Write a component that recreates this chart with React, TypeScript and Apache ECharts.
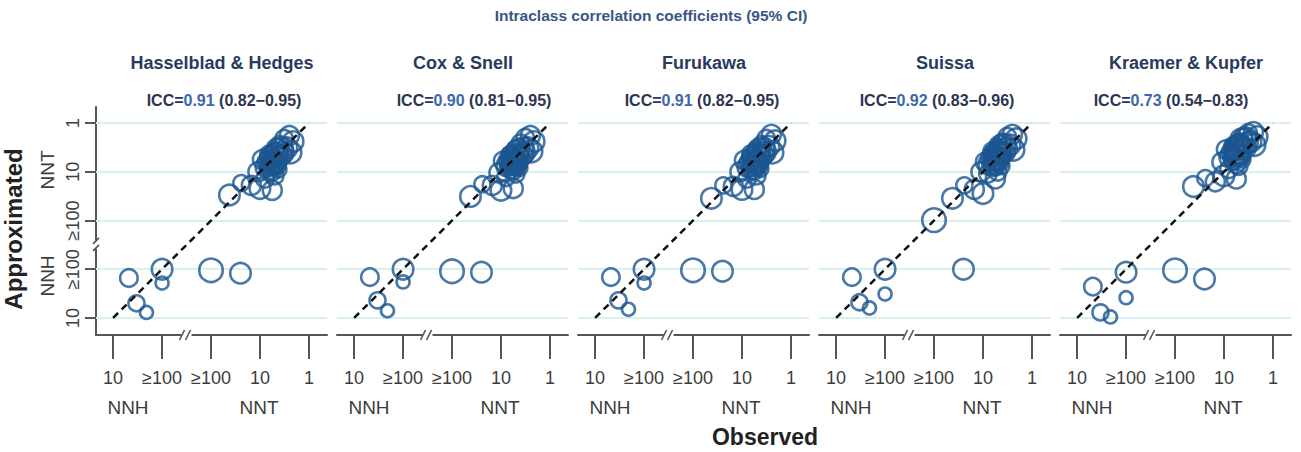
import React, { useEffect, useRef } from 'react';
import * as echarts from 'echarts';

// Approximation methods, one panel each
const methods = ['Hasselblad & Hedges', 'Cox & Snell', 'Furukawa', 'Suissa', 'Kraemer & Kupfer'];
const iccValues = ['0.91', '0.90', '0.91', '0.92', '0.73'];
const iccLower = ['0.82', '0.81', '0.82', '0.83', '0.54'];
const iccUpper = ['0.95', '0.95', '0.95', '0.96', '0.83'];

// Signed numbers needed: negative = NNH (harm), positive = NNT (benefit); |v| >= 100 is shown as "≥100"
const tickValues = [-10, -100, 100, 10, 1];
const tickLabels = ['10', '≥100', '≥100', '10', '1'];

// Observed NNT/NNH per trial (same trials in every panel)
const observed = [
  -21, -30, -48, -100, -100, 100, 25,
  42, 24, 15, 10, 5.6, 7.9, 11, 7.6, 5.6, 8.9, 6.0, 4.5, 5.0, 3.5, 4.0, 2.8, 3.2, 2.5, 2.1, 2.4, 6.6, 4.2,
  7.1, 5.2, 4.8, 4.0, 3.5, 6.3, 4.4, 3.3, 5.6, 5.0,
  6.0, 5.0, 6.6, 4.5, 5.2, 5.6, 4.8, 6.3,
];
// Relative trial weight (bubble size)
const trialWeights = [
  5, 4, 2, 7, 2, 9, 7,
  7, 4, 6, 7, 6, 5, 6, 7, 5, 6, 7, 6, 5, 6, 5, 7, 5, 6, 7, 8, 4, 4,
  6, 7, 8, 6, 7, 6, 8, 7, 6, 5,
  7, 8, 6, 7, 6, 8, 7, 6,
];

// Approximated NNT/NNH per method
const approxHasselblad = [
  -66, -20, -13, -100, -52, -95, -83,
  30, 17, 19, 22, 24, 14, 10, 7.9, 10, 5.6, 5.0, 6.3, 3.8, 4.5, 2.8, 3.2, 2.1, 1.8, 2.4, 4.0, 6.6, 8.9,
  6.3, 7.1, 4.5, 5.0, 3.2, 8.9, 3.5, 4.0, 5.6, 12,
  5.2, 6.0, 7.6, 5.0, 4.2, 6.6, 7.1, 4.5,
];
const approxCoxSnell = [
  -69, -23, -14, -100, -55, -91, -87,
  32, 18, 19, 24, 22, 13, 10.5, 7.6, 9.5, 6.0, 4.8, 6.0, 3.5, 4.5, 2.6, 3.2, 2.0, 1.8, 2.4, 3.8, 7.1, 8.3,
  6.0, 7.1, 4.6, 5.2, 3.2, 8.5, 3.6, 4.0, 5.4, 11,
  5.4, 6.2, 7.4, 5.0, 4.3, 6.6, 7.0, 4.6,
];
const approxFurukawa = [
  -69, -23, -15, -100, -52, -95, -91,
  35, 19, 20, 23, 23, 14, 10, 7.9, 9.5, 5.8, 5.0, 6.3, 3.6, 4.4, 2.8, 3.0, 2.1, 1.7, 2.3, 4.0, 6.9, 8.7,
  6.5, 6.9, 4.5, 5.0, 3.3, 8.9, 3.5, 3.9, 5.6, 12,
  5.2, 6.0, 7.8, 4.9, 4.2, 6.8, 7.1, 4.4,
];
const approxSuissa = [
  -69, -21, -16, -100, -31, 98, -100,
  35, 19, 23, 28, 14, 11, 10, 7.1, 7.9, 6.3, 4.5, 5.0, 3.2, 4.0, 2.5, 2.8, 1.9, 1.7, 2.1, 3.5, 5.6, 7.6,
  5.4, 5.8, 3.9, 4.2, 2.8, 7.6, 3.0, 3.3, 4.7, 10,
  4.6, 5.2, 6.6, 4.3, 3.7, 5.6, 6.0, 3.9,
];
const approxKraemer = [
  -44, -13, -10.5, -87, -26, -95, -63,
  20, 13.5, 16, 12, 14, 8.9, 6.3, 5.0, 7.1, 3.5, 3.2, 4.5, 2.5, 3.2, 1.9, 2.4, 1.6, 1.5, 1.9, 2.8, 4.2, 5.6,
  4.0, 4.5, 2.8, 3.2, 2.0, 5.6, 2.2, 2.5, 3.5, 7.6,
  3.5, 4.0, 5.0, 3.2, 2.8, 4.5, 4.6, 3.0,
];
const approximated = [approxHasselblad, approxCoxSnell, approxFurukawa, approxSuissa, approxKraemer];

// Layout
const PANEL_LEFT0 = 96;
const PANEL_STEP = 241;
const PANEL_W = 231;
const PANEL_TOP = 107;
const PANEL_H = 228;
const X_MIN = -0.35;
const X_MAX = 4.37;
const Y_MIN = -0.35;
const Y_MAX = 4.33;
const ICC_CENTERS = [224, 474, 702, 937, 1171];

const FONT = '"Liberation Sans", Arial, Helvetica, sans-serif';
const CIRCLE = '#1b5691';
const GRIDLINE = '#d8f1ee';
const AXIS = '#555555';
const LABEL = '#3d3d3d';

// Broken log scale: NNH 10..100 -> 0..1, NNT 100..1 -> 2..4
const toAxis = (v: number) =>
  v < 0 ? Math.log10(Math.min(-v, 100)) - 1 : 4 - Math.log10(Math.min(v, 100));

const tickPos = tickValues.map(toAxis);
const breakPos = (tickPos[1] + tickPos[2]) / 2;
const tickFormatter = (val: number) => {
  const k = tickPos.findIndex((p) => Math.abs(p - val) < 1e-6);
  return k >= 0 ? tickLabels[k] : '';
};

const centered = { textAlign: 'center', align: 'center', textVerticalAlign: 'middle', verticalAlign: 'middle' };

function buildOption() {
  const grid: any[] = [];
  const xAxis: any[] = [];
  const yAxis: any[] = [];
  const series: any[] = [];
  const elements: any[] = [];

  methods.forEach((name, i) => {
    const left = PANEL_LEFT0 + PANEL_STEP * i;
    grid.push({ left, top: PANEL_TOP, width: PANEL_W, height: PANEL_H, containLabel: false });
    xAxis.push({
      gridIndex: i,
      type: 'value',
      min: X_MIN,
      max: X_MAX,
      axisLine: { show: true, onZero: false, lineStyle: { color: AXIS, width: 2 } },
      axisTick: { show: true, length: 24, customValues: tickPos, lineStyle: { color: AXIS, width: 2 } },
      axisLabel: {
        show: true,
        customValues: tickPos,
        formatter: tickFormatter,
        margin: 34,
        fontSize: 18,
        color: LABEL,
        fontFamily: FONT,
      },
      splitLine: { show: false },
    });
    yAxis.push({
      gridIndex: i,
      type: 'value',
      min: Y_MIN,
      max: Y_MAX,
      show: i === 0,
      axisLine: { show: true, onZero: false, lineStyle: { color: AXIS, width: 2 } },
      axisTick: { show: true, length: 11, customValues: tickPos, lineStyle: { color: AXIS, width: 2 } },
      axisLabel: {
        show: true,
        customValues: tickPos,
        formatter: tickFormatter,
        rotate: 90,
        margin: 14,
        fontSize: 18,
        color: LABEL,
        fontFamily: FONT,
      },
      splitLine: { show: false },
    });

    const approx = approximated[i];
    series.push({
      type: 'scatter',
      xAxisIndex: i,
      yAxisIndex: i,
      silent: true,
      z: 2,
      symbol: 'circle',
      symbolSize: (d: number[]) => 10 + 1.5 * d[2],
      itemStyle: { color: 'rgba(0,0,0,0)', borderColor: CIRCLE, borderWidth: 2.6 },
      data: observed.map((o, k) => [toAxis(o), toAxis(approx[k]), trialWeights[k]]),
      markLine: {
        z: 1,
        silent: true,
        symbol: ['none', 'none'],
        label: { show: false },
        lineStyle: { color: GRIDLINE, width: 2, type: 'solid' },
        data: tickPos.map((v) => ({ yAxis: v })),
      },
    });
    // line of identity
    series.push({
      type: 'line',
      xAxisIndex: i,
      yAxisIndex: i,
      silent: true,
      z: 3,
      symbol: 'none',
      lineStyle: { color: '#111111', width: 2.5, type: [7, 5] },
      data: [
        [tickPos[0], tickPos[0]],
        [tickPos[4], tickPos[4]],
      ],
    });
    // axis break marks
    series.push({
      type: 'custom',
      xAxisIndex: i,
      yAxisIndex: i,
      silent: true,
      z: 4,
      clip: false,
      data: [[breakPos, Y_MIN]],
      renderItem: (_params: any, api: any) => {
        const children: any[] = [];
        const p = api.coord([breakPos, Y_MIN]);
        children.push({ type: 'rect', shape: { x: p[0] - 5, y: p[1] - 4, width: 10, height: 8 }, style: { fill: '#ffffff' } });
        children.push({ type: 'line', shape: { x1: p[0] - 7, y1: p[1] + 5, x2: p[0] - 2, y2: p[1] - 5 }, style: { stroke: AXIS, lineWidth: 1.6 } });
        children.push({ type: 'line', shape: { x1: p[0] - 1, y1: p[1] + 5, x2: p[0] + 4, y2: p[1] - 5 }, style: { stroke: AXIS, lineWidth: 1.6 } });
        if (i === 0) {
          const q = api.coord([X_MIN, breakPos]);
          children.push({ type: 'rect', shape: { x: q[0] - 4, y: q[1] - 4, width: 8, height: 8 }, style: { fill: '#ffffff' } });
          children.push({ type: 'line', shape: { x1: q[0] - 3, y1: q[1] - 1, x2: q[0] + 3, y2: q[1] - 7 }, style: { stroke: AXIS, lineWidth: 1.6 } });
          children.push({ type: 'line', shape: { x1: q[0] - 3, y1: q[1] + 6, x2: q[0] + 3, y2: q[1] }, style: { stroke: AXIS, lineWidth: 1.6 } });
        }
        return { type: 'group', children };
      },
    });

    // panel headings
    elements.push({
      type: 'text',
      x: left + 126,
      y: 63,
      style: { text: name, fontSize: 18, fontWeight: 'bold', fontFamily: FONT, fill: '#2a3a5e', ...centered },
    });
    elements.push({
      type: 'text',
      x: ICC_CENTERS[i],
      y: 100,
      style: {
        text: `{a|ICC=}{b|${iccValues[i]}}{a| (${iccLower[i]}\u2212${iccUpper[i]})}`,
        ...centered,
        rich: {
          a: { fontSize: 16, fontWeight: 'bold', fontFamily: FONT, fill: '#2b3553', textFill: '#2b3553' },
          b: { fontSize: 16, fontWeight: 'bold', fontFamily: FONT, fill: '#3a68a8', textFill: '#3a68a8' },
        },
      },
    });
    // NNH / NNT under the x axis
    elements.push({
      type: 'text', x: left + 32, y: 407,
      style: { text: 'NNH', fontSize: 19, fontFamily: FONT, fill: LABEL, ...centered },
    });
    elements.push({
      type: 'text', x: left + 163, y: 407,
      style: { text: 'NNT', fontSize: 19, fontFamily: FONT, fill: LABEL, ...centered },
    });
  });

  // y-axis group labels and axis titles
  elements.push({
    type: 'text', x: 47, y: 170, rotation: Math.PI / 2,
    style: { text: 'NNT', fontSize: 19, fontFamily: FONT, fill: LABEL, ...centered },
  });
  elements.push({
    type: 'text', x: 47, y: 276, rotation: Math.PI / 2,
    style: { text: 'NNH', fontSize: 19, fontFamily: FONT, fill: LABEL, ...centered },
  });
  elements.push({
    type: 'text', x: 13, y: 229, rotation: Math.PI / 2,
    style: { text: 'Approximated', fontSize: 24, fontWeight: 'bold', fontFamily: FONT, fill: '#222222', ...centered },
  });
  elements.push({
    type: 'text', x: 765, y: 437,
    style: { text: 'Observed', fontSize: 23, fontWeight: 'bold', fontFamily: FONT, fill: '#222222', ...centered },
  });
  elements.push({
    type: 'text', x: 651, y: 15,
    style: { text: 'Intraclass correlation coefficients (95% CI)', fontSize: 15.5, fontWeight: 'bold', fontFamily: FONT, fill: '#3a5686', ...centered },
  });

  return {
    animation: false,
    backgroundColor: '#ffffff',
    textStyle: { fontFamily: FONT },
    grid,
    xAxis,
    yAxis,
    series,
    graphic: { elements },
  };
}

export default function App() {
  const ref = useRef<HTMLDivElement>(null);
  useEffect(() => {
    const chart = echarts.init(ref.current as HTMLDivElement, null, { renderer: 'svg' });
    chart.setOption(buildOption() as any);
    return () => chart.dispose();
  }, []);
  return (
    <div
      ref={ref}
      style={{ position: 'absolute', left: 0, top: 0, width: 1301, height: 452, background: '#ffffff' }}
    />
  );
}
